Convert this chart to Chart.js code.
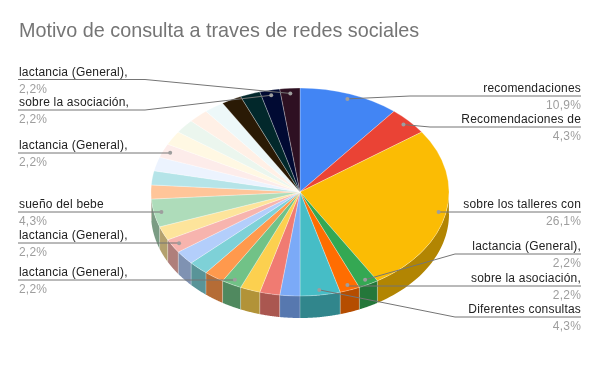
<!DOCTYPE html>
<html><head><meta charset="utf-8">
<style>html,body{margin:0;padding:0;background:#fff}#w{width:600px;height:371px}</style>
<script src="https://cdn.jsdelivr.net/npm/chart.js@4/dist/chart.umd.min.js"></script>
</head><body><div id="w"><canvas id="c" width="600" height="371"></canvas></div>
<script>
const chartTitle = "Motivo de consulta a traves de redes sociales";
const categories = ["recomendaciones","Recomendaciones de","sobre los talleres con","lactancia (General),","sobre la asociación,","Diferentes consultas",
 "consulta 7","consulta 8","consulta 9","lactancia (General),","consulta 11","consulta 12","consulta 13","lactancia (General),","consulta 15","sueño del bebe",
 "consulta 17","consulta 18","consulta 19","lactancia (General),","consulta 21","consulta 22","consulta 23","consulta 24","consulta 25","consulta 26","sobre la asociación,","lactancia (General),"];
const counts = [5,2,12,1,1,2,1,1,1,1,1,1,1,1,1,2,1,1,1,1,1,1,1,1,1,1,1,1];
const sliceColors = ["#4285f4","#ea4335","#fbbc04","#34a853","#ff6d01","#46bdc6","#7baaf7","#f07b72","#fcd04f","#71c287","#ff994d","#7ed1d7","#b3cefb","#f7b4ae","#fde49b","#aedcba","#ffc599","#b5e4e8","#ecf3fe","#fdecea","#fff8e3","#ebf6ee","#fff0e6","#edf8f9","#2a1a05","#02282b","#010a33","#2e1022"];
</script>
<script>
const RX=149, RY=104, CX=300, CY=192, DEPTH=22;
const FONT='"Liberation Sans", Arial, sans-serif';
// leader layout: slice index, side, line y, elbow x
const leaders=[
 [27,'L',79.5,145],[26,'L',110,145],[19,'L',153,null],[15,'L',212,null],[13,'L',243,null],[9,'L',280,null],
 [0,'R',96,410],[1,'R',127,430],[2,'R',212,null],[3,'R',254,455],[4,'R',286,null],[5,'R',317,455]
];
function shade(hex,f){const n=parseInt(hex.slice(1),16);return `rgb(${(n>>16)*f|0},${((n>>8)&255)*f|0},${(n&255)*f|0})`;}
const pie3d={id:'pie3d',
 beforeDatasetsDraw(chart){
  const ctx=chart.ctx, arcs=chart.getDatasetMeta(0).data;
  const px=a=>CX+RX*Math.cos(a), py=a=>CY+RY*Math.sin(a);
  arcs.forEach((el,i)=>{
   const lo=Math.max(el.startAngle,0), hi=Math.min(el.endAngle,Math.PI);
   if(hi<=lo) return;
   ctx.beginPath();
   const N=40;
   for(let k=0;k<=N;k++){const a=lo+(hi-lo)*k/N; ctx.lineTo(px(a),py(a));}
   for(let k=N;k>=0;k--){const a=lo+(hi-lo)*k/N; ctx.lineTo(px(a),py(a)+DEPTH);}
   ctx.closePath();
   ctx.fillStyle=shade(sliceColors[i],0.71);ctx.fill();
   ctx.beginPath();ctx.moveTo(px(lo),py(lo));ctx.lineTo(px(lo),py(lo)+DEPTH);
   ctx.strokeStyle='rgba(255,255,255,0.3)';ctx.lineWidth=1;ctx.stroke();
  });
  const el=arcs[0];
  ctx.save();
  ctx.translate(CX,CY);ctx.scale(1,RY/RX);ctx.translate(-el.x,-el.y);
 },
 afterDatasetsDraw(chart){
  const ctx=chart.ctx; ctx.restore();
  const arcs=chart.getDatasetMeta(0).data;
  const total=counts.reduce((a,b)=>a+b,0);
  ctx.save();
  leaders.forEach(([i,side,ly,ex])=>{
   const el=arcs[i], a=(el.startAngle+el.endAngle)/2;
   const dx=CX+RX*.95*Math.cos(a), dy=CY+RY*.95*Math.sin(a);
   const endX= side==='L'?18:581;
   ctx.strokeStyle='#757575';ctx.lineWidth=1;
   ctx.beginPath();ctx.moveTo(dx,dy);
   if(ex!==null) ctx.lineTo(ex,ly); else ctx.lineTo(dx,ly);
   ctx.lineTo(endX,ly);ctx.stroke();
   ctx.fillStyle='#9e9e9e';ctx.beginPath();ctx.arc(dx,dy,2,0,Math.PI*2);ctx.fill();
   ctx.font='12px '+FONT;
   ctx.letterSpacing='0.2px';
   ctx.textAlign= side==='L'?'left':'right';ctx.textBaseline='alphabetic';
   const tx= side==='L'?19:581;
   ctx.fillStyle='#222222';ctx.fillText(categories[i],tx,ly-4);
   const pct=(counts[i]/total*100).toFixed(1).replace('.',',')+'%';
   ctx.fillStyle='#9e9e9e';ctx.fillText(pct,tx,ly+13);
  });
  ctx.restore();
 }
};
new Chart(document.getElementById('c'),{
 type:'pie',
 data:{labels:categories,datasets:[{data:counts,backgroundColor:sliceColors,borderColor:'rgba(255,255,255,0.55)',borderWidth:0.6,radius:RX,clip:false}]},
 options:{responsive:false,animation:false,
  plugins:{legend:{display:false},tooltip:{enabled:false},
   title:{display:true,text:chartTitle,align:'start',color:'#757575',font:{family:FONT,size:19.8,weight:'normal'},padding:{top:20,bottom:10}}},
  layout:{padding:{left:19,right:19,top:0,bottom:0}}
 },
 plugins:[pie3d]
});
</script></body></html>
